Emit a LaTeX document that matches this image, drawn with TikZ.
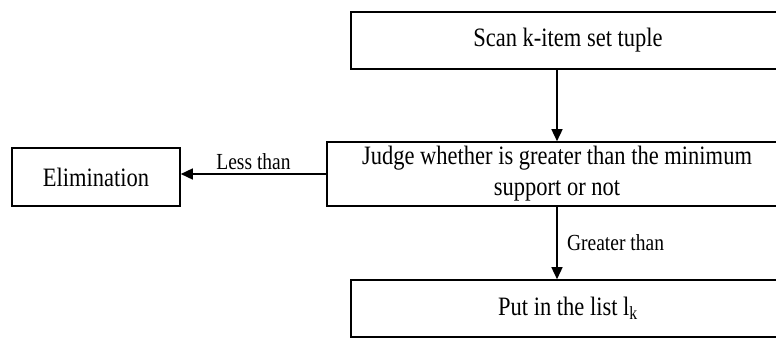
\documentclass[tikz,border=0pt]{standalone}
\usepackage{fontspec}
\setmainfont{Liberation Serif}
\usetikzlibrary{arrows.meta, positioning}

% the text in the figure is set a bit taller than wide
\newcommand{\tallt}[1]{\scalebox{1}[1.18]{#1}}

\begin{document}
\begin{tikzpicture}[
  x=1pt, y=-1pt,
  stepbox/.style={rectangle, draw, line width=1.6pt, align=center, inner sep=0pt, font=\fontsize{22.5}{25.5}\selectfont},
  arr/.style={-{Triangle[length=12pt, width=11pt]}, line width=1.5pt},
  lbl/.style={font=\fontsize{19.5}{22}\selectfont}
]
\clip (0,0) rectangle (776,338);

% main flow
\node[stepbox, minimum width=434, minimum height=57] (scan) at (568, 40.5) {\tallt{Scan k-item set tuple}};
\node[stepbox, minimum width=460, minimum height=64] (judge) at (557, 174) {\tallt{\begin{tabular}{@{}c@{}}Judge whether is greater than the minimum\\support or not\end{tabular}}};
\node[stepbox, minimum width=434, minimum height=57] (put) at (568, 308.5) {\tallt{Put in the list l\textsubscript{k}}};

% rejected branch
\node[stepbox, minimum width=168, minimum height=58] (elim) at (96, 177) {\tallt{Elimination}};

% connectors
\draw[arr] (scan.south -| judge.north) -- (judge.north);
\draw[arr] (judge.south) -- node[lbl, right, xshift=6pt] {\tallt{Greater than}} (judge.south |- put.north);
\draw[arr] (judge.west) -- node[lbl, above] {\tallt{Less than}} (judge.west -| elim.east);

\end{tikzpicture}
\end{document}
